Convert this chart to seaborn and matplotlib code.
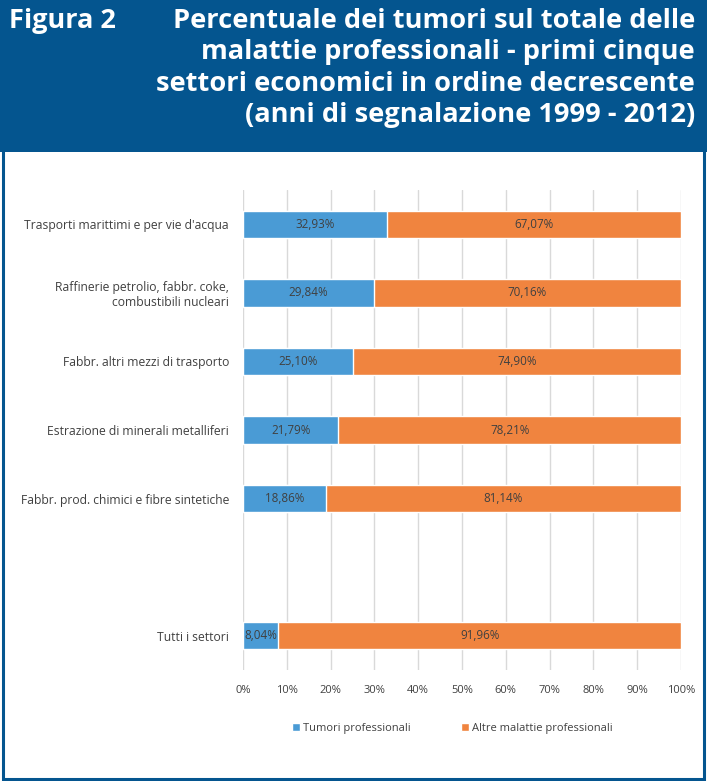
import numpy as np
import pandas as pd
import matplotlib.pyplot as plt
import seaborn as sns
from matplotlib.patches import Rectangle

settori = [
    "Trasporti marittimi e per vie d'acqua",
    "Raffinerie petrolio, fabbr. coke,\ncombustibili nucleari",
    "Fabbr. altri mezzi di trasporto",
    "Estrazione di minerali metalliferi",
    "Fabbr. prod. chimici e fibre sintetiche",
    "Tutti i settori",
]
tumori = [32.93, 29.84, 25.10, 21.79, 18.86, 8.04]
altre = [67.07, 70.16, 74.90, 78.21, 81.14, 91.96]

# ordine con uno spazio vuoto prima del totale
ordine = settori[:5] + [" "] + settori[5:]

blu = "#4A9BD5"
arancio = "#F0843F"
blu_testata = "#04558F"
grigio = "#404040"

df = pd.DataFrame({"settore": settori, "tumori": tumori, "altre": altre})
df["totale"] = df["tumori"] + df["altre"]

sns.set_theme(style="white")
plt.rcParams["font.family"] = ["Open Sans", "DejaVu Sans"]

fig = plt.figure(figsize=(7.07, 7.81), dpi=100)

# testata blu e cornice
fig.patches.append(Rectangle((0, 1 - 152 / 781), 1, 152 / 781, transform=fig.transFigure,
                             facecolor=blu_testata, edgecolor="none", zorder=0))
fig.patches.append(Rectangle((0.0045, 0.0025), 0.991, 0.99, transform=fig.transFigure,
                             facecolor="none", edgecolor=blu_testata, lw=2.2, zorder=1))
fig.text(0.013, 0.990, "Figura 2", color="white", fontsize=19.5, fontweight="bold",
         ha="left", va="top")
fig.text(0.983, 0.990,
         "Percentuale dei tumori sul totale delle\nmalattie professionali - primi cinque\n"
         "settori economici in ordine decrescente\n(anni di segnalazione 1999 - 2012)",
         color="white", fontsize=19.6, fontweight="bold", ha="right", va="top",
         linespacing=1.27)

ax = fig.add_axes([243 / 707, 1 - 670 / 781, 438 / 707, 480 / 781])
sns.barplot(data=df, y="settore", x="totale", order=ordine, color=arancio,
            width=0.4, orient="h", ax=ax, label="Altre malattie professionali",
            saturation=1, zorder=3)
sns.barplot(data=df, y="settore", x="tumori", order=ordine, color=blu,
            width=0.4, orient="h", ax=ax, label="Tumori professionali",
            saturation=1, zorder=3)

for i, s in enumerate(settori):
    pos = ordine.index(s)
    t, a = tumori[i], altre[i]
    ax.text(t / 2, pos, f"{t:.2f}%".replace(".", ","), ha="center", va="center",
            fontsize=8.4, color=grigio, zorder=5)
    ax.text(t + a / 2, pos, f"{a:.2f}%".replace(".", ","), ha="center", va="center",
            fontsize=8.4, color=grigio, zorder=5)

ax.set_xlim(0, 100)
ax.set_ylim(len(ordine) - 0.5, -0.5)
ax.set_xticks(np.arange(0, 101, 10))
ax.set_xticklabels([f"{v}%" for v in range(0, 101, 10)], fontsize=8, color=grigio)
ax.tick_params(axis="y", labelsize=8.7, labelcolor=grigio, length=0, pad=10)
ax.tick_params(axis="x", length=0, pad=11)
for lab in ax.get_yticklabels():
    lab.set_ha("right")
    lab.set_multialignment("right")
ax.grid(axis="x", color="#D9D9D9", lw=1, zorder=0)
ax.set_xlabel("")
ax.set_ylabel("")
for sp in ax.spines.values():
    sp.set_visible(False)

h, l = ax.get_legend_handles_labels()
leg = ax.legend(h[::-1], l[::-1], loc="upper center", bbox_to_anchor=(0.478, -0.09),
                ncol=2, frameon=False, fontsize=8, handlelength=0.7, handleheight=0.7,
                handletextpad=0.3, columnspacing=4.5)
for txt in leg.get_texts():
    txt.set_color(grigio)

fig.savefig("out.png", dpi=100)
